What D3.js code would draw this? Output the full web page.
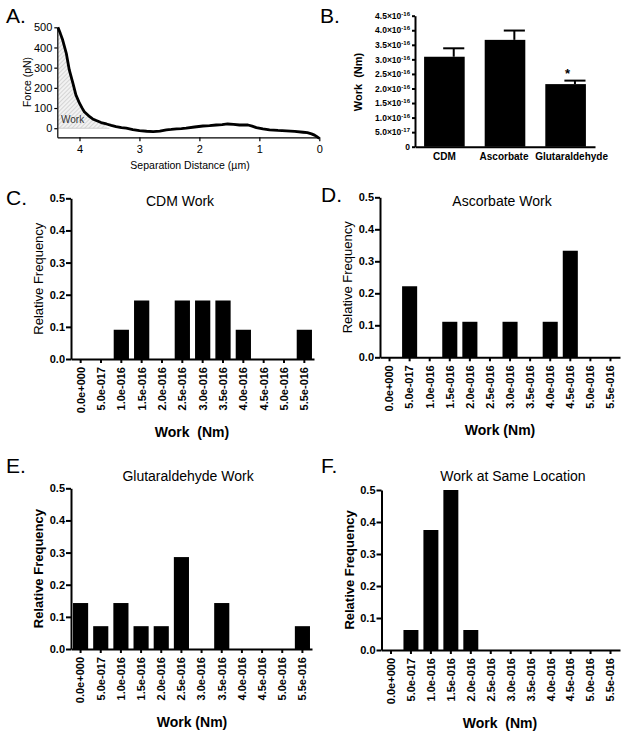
<!DOCTYPE html>
<html>
<head>
<meta charset="utf-8">
<script src="https://cdn.jsdelivr.net/npm/d3@7"></script>
<style>
  body { margin: 0; background: #fff; }
  svg { display: block; font-family: "Liberation Sans", Arial, sans-serif; }
</style>
</head>
<body>
<script>
// ---- data ----
// panel A: force curve
const sepDistance = [4.36, 4.32, 4.28, 4.22, 4.17, 4.11, 4.06, 4.0, 3.96, 3.92, 3.87, 3.83, 3.78, 3.72, 3.64, 3.55, 3.47, 3.39, 3.30, 3.22, 3.11, 3.0, 2.88, 2.77, 2.66, 2.55, 2.47, 2.38, 2.30, 2.22, 2.08, 1.94, 1.83, 1.72, 1.62, 1.53, 1.43, 1.33, 1.25, 1.19, 1.12, 1.05, 0.94, 0.83, 0.69, 0.55, 0.41, 0.27, 0.20, 0.13, 0.08, 0.04, 0];
const forcePN = [500, 470, 437, 371, 289, 223, 165, 124, 102, 82, 68, 57, 46, 38, 28, 21, 14, 8, 3, 0, -7, -12, -15, -17, -14, -8, -6, -3, -2, 0, 6, 11, 13, 16, 18, 21, 19, 16, 17, 16, 10, 3, -3, -8, -11, -13, -16, -20, -22, -28, -34, -42, -50];
const workShadeLimit = 3.5;

// panel B: mean work
const workGroups = ["CDM", "Ascorbate", "Glutaraldehyde"];
const workMean = [3.09e-16, 3.67e-16, 2.15e-16];
const workErr = [0.29e-16, 0.32e-16, 0.12e-16];
const workTicks = [0, 5e-17, 1e-16, 1.5e-16, 2e-16, 2.5e-16, 3e-16, 3.5e-16, 4e-16, 4.5e-16];

// histograms
const binLabels = ["0.0e+000", "5.0e-017", "1.0e-016", "1.5e-016", "2.0e-016", "2.5e-016",
                   "3.0e-016", "3.5e-016", "4.0e-016", "4.5e-016", "5.0e-016", "5.5e-016"];
const cdmFreq = [0, 0, 0.091, 0.182, 0, 0.182, 0.182, 0.182, 0.091, 0, 0, 0.091];
const ascorbateFreq = [0, 0.222, 0, 0.111, 0.111, 0, 0.111, 0, 0.111, 0.333, 0, 0];
const glutFreq = [0.143, 0.071, 0.143, 0.071, 0.071, 0.286, 0, 0.143, 0, 0, 0, 0.071];
const sameLocFreq = [0, 0.0625, 0.375, 0.5, 0.0625, 0, 0, 0, 0, 0, 0, 0];
const freqTicks = [0, 0.1, 0.2, 0.3, 0.4, 0.5];

const svg = d3.select("body").append("svg")
    .attr("width", 629)
    .attr("height", 737);

function panelLetter(txt, x, y) {
    svg.append("text")
        .attr("x", x).attr("y", y)
        .style("font-size", "21px")
        .text(txt);
}

// ---------- Panel A ----------
const ax = d3.scaleLinear().domain([4.37, 0]).range([57.3, 319.3]);
const ay = d3.scaleLinear().domain([-45, 500]).range([137.3, 27.3]);

const defs = svg.append("defs");
const hatch = defs.append("pattern")
    .attr("id", "hatch")
    .attr("patternUnits", "userSpaceOnUse")
    .attr("width", 3).attr("height", 3)
    .attr("patternTransform", "rotate(45)");
hatch.append("rect").attr("width", 3).attr("height", 3).attr("fill", "#f2f2f2");
hatch.append("line").attr("x1", 0).attr("y1", 0).attr("x2", 0).attr("y2", 3)
    .attr("stroke", "#b8b8b8").attr("stroke-width", 1);

const curvePts = sepDistance.map((d, i) => ({ d: d, f: forcePN[i] }));
const shadePts = curvePts.filter(p => p.d >= workShadeLimit);

svg.append("path")
    .datum(shadePts)
    .attr("d", d3.area().x(p => ax(p.d)).y0(ay(0)).y1(p => ay(p.f)))
    .attr("fill", "url(#hatch)");
svg.append("line")
    .attr("x1", ax(4.37)).attr("x2", ax(workShadeLimit))
    .attr("y1", ay(0)).attr("y2", ay(0))
    .attr("stroke", "#ccc").attr("stroke-width", 1);

svg.append("text")
    .attr("x", 61).attr("y", 123)
    .style("font-size", "10px")
    .style("fill", "#333")
    .text("Work");

svg.append("path")
    .datum(curvePts)
    .attr("d", d3.line().x(p => ax(p.d)).y(p => ay(p.f)))
    .attr("fill", "none")
    .attr("stroke", "#000")
    .attr("stroke-width", 2.8)
    .attr("stroke-linejoin", "round");

const aYAxis = svg.append("g")
    .attr("transform", `translate(${ax(4.37)},0)`)
    .call(d3.axisLeft(ay).tickValues([0, 100, 200, 300, 400, 500]).tickSize(3).tickSizeOuter(0).tickPadding(2));
const aXAxis = svg.append("g")
    .attr("transform", `translate(0,${ay(-45)})`)
    .call(d3.axisBottom(ax).tickValues([4, 3, 2, 1, 0]).tickSize(4).tickSizeOuter(0).tickPadding(4).tickFormat(d3.format("d")));
[aYAxis, aXAxis].forEach(g => {
    g.selectAll("path, line").attr("stroke", "#000").attr("stroke-width", 1.2);
    g.selectAll("text").style("font-size", "11px").attr("fill", "#000");
});

svg.append("text")
    .attr("transform", "translate(31,82) rotate(-90)")
    .attr("text-anchor", "middle")
    .style("font-size", "10.5px")
    .text("Force (pN)");
svg.append("text")
    .attr("x", 190).attr("y", 169)
    .attr("text-anchor", "middle")
    .style("font-size", "10.5px")
    .text("Separation Distance (µm)");

panelLetter("A.", 6, 23);

// ---------- Panel B ----------
const bx = d3.scaleBand().domain(workGroups).range([415, 595]).paddingInner(0.33).paddingOuter(0.15);
const by = d3.scaleLinear().domain([0, 4.5e-16]).range([146.7, 15.7]);

svg.append("g").selectAll("rect")
    .data(workGroups)
    .enter().append("rect")
    .attr("x", d => bx(d))
    .attr("y", (d, i) => by(workMean[i]))
    .attr("width", bx.bandwidth())
    .attr("height", (d, i) => by(0) - by(workMean[i]))
    .attr("fill", "#000");

const errG = svg.append("g").attr("stroke", "#000").attr("stroke-width", 2);
workGroups.forEach((g, i) => {
    const stemX = bx(g) + bx.bandwidth() * 0.73;
    errG.append("line")
        .attr("x1", stemX).attr("x2", stemX)
        .attr("y1", by(workMean[i])).attr("y2", by(workMean[i] + workErr[i]));
    errG.append("line")
        .attr("x1", bx(g) + bx.bandwidth() * 0.47).attr("x2", bx(g) + bx.bandwidth() * 0.99)
        .attr("y1", by(workMean[i] + workErr[i])).attr("y2", by(workMean[i] + workErr[i]));
});

svg.append("text")
    .attr("x", bx("Glutaraldehyde") + bx.bandwidth() * 0.55)
    .attr("y", by(workMean[2] + workErr[2]) - 3)
    .attr("text-anchor", "middle")
    .style("font-size", "13px")
    .style("font-weight", "bold")
    .text("*");

const bYAxis = svg.append("g")
    .attr("transform", "translate(415,0)")
    .call(d3.axisLeft(by).tickValues(workTicks).tickSize(3).tickSizeOuter(0).tickPadding(2).tickFormat(""));
bYAxis.selectAll(".tick text").each(function (v) {
    const t = d3.select(this);
    if (v === 0) { t.text("0"); return; }
    const e = Math.floor(Math.log10(v) + 1e-9);
    const m = v / Math.pow(10, e);
    t.append("tspan").text(m.toFixed(1) + "×10");
    t.append("tspan").attr("dy", "-0.5em").style("font-size", "6px").text(String(e));
});
bYAxis.selectAll("text").style("font-size", "8.5px").style("font-weight", "bold").attr("fill", "#000");

const bXAxis = svg.append("g")
    .attr("transform", `translate(0,${by(0)})`)
    .call(d3.axisBottom(bx).tickSize(0).tickSizeOuter(0).tickPadding(6));
bXAxis.selectAll("text").style("font-size", "10px").style("font-weight", "bold").attr("fill", "#000");
bXAxis.selectAll(".tick text").filter(d => d === "Glutaraldehyde").attr("dx", 6);
bXAxis.selectAll(".tick text").filter(d => d === "Ascorbate").attr("dx", -1);
[bYAxis, bXAxis].forEach(g => g.selectAll("path, line").attr("stroke", "#000").attr("stroke-width", 2));

svg.append("text")
    .attr("transform", "translate(362,82) rotate(-90)")
    .attr("text-anchor", "middle")
    .style("font-size", "11px")
    .style("font-weight", "bold")
    .style("white-space", "pre")
    .text("Work  (Nm)");

panelLetter("B.", 320, 23);

// ---------- histograms ----------
function histogram(o) {
    const x = d3.scaleBand().domain(binLabels).range([o.x0, o.x1]).paddingInner(0.25).paddingOuter(0.1);
    const y = d3.scaleLinear().domain([0, 0.5]).range([o.yBottom, o.yTop]);

    svg.append("g").selectAll("rect")
        .data(o.values)
        .enter().append("rect")
        .attr("x", (d, i) => x(binLabels[i]))
        .attr("y", d => y(d))
        .attr("width", x.bandwidth())
        .attr("height", d => y(0) - y(d))
        .attr("fill", "#000");

    const yAxis = svg.append("g")
        .attr("transform", `translate(${o.x0},0)`)
        .call(d3.axisLeft(y).tickValues(freqTicks).tickFormat(d3.format(".1f")).tickSize(5).tickSizeOuter(0).tickPadding(1));
    yAxis.selectAll("text").style("font-size", "11px").style("font-weight", "bold").attr("fill", "#000");

    const xAxis = svg.append("g")
        .attr("transform", `translate(0,${o.yBottom})`)
        .call(d3.axisBottom(x).tickSize(4).tickSizeOuter(0));
    xAxis.selectAll("text")
        .attr("transform", "rotate(-90)")
        .attr("x", -8).attr("y", 0).attr("dy", "0.35em")
        .style("text-anchor", "end")
        .style("font-size", "11px")
        .style("font-weight", "bold")
        .attr("fill", "#000");
    [yAxis, xAxis].forEach(g => g.selectAll("path, line").attr("stroke", "#000").attr("stroke-width", 2));

    svg.append("text")
        .attr("x", o.titleX).attr("y", o.titleY)
        .attr("text-anchor", "middle")
        .style("font-size", "14px")
        .text(o.title);

    svg.append("text")
        .attr("transform", `translate(${o.x0 - 28},${(o.yTop + o.yBottom) / 2}) rotate(-90)`)
        .attr("text-anchor", "middle")
        .style("font-size", "13px")
        .style("font-weight", o.boldY ? "bold" : "normal")
        .text("Relative Frequency");

    svg.append("text")
        .attr("x", o.xTitleX).attr("y", o.yBottom + 78)
        .attr("text-anchor", "middle")
        .style("font-size", "14px")
        .style("font-weight", "bold")
        .style("white-space", "pre")
        .text(o.xTitle);

    panelLetter(o.letter, o.letterX, o.letterY);
}

histogram({ values: cdmFreq, x0: 71, x1: 314, yTop: 198.3, yBottom: 359, title: "CDM Work", titleX: 180, titleY: 206,
            xTitle: "Work  (Nm)", xTitleX: 192, letter: "C.", letterX: 6, letterY: 205, boldY: false });
histogram({ values: ascorbateFreq, x0: 380, x1: 620, yTop: 197.3, yBottom: 357.3, title: "Ascorbate Work", titleX: 502, titleY: 206,
            xTitle: "Work (Nm)", xTitleX: 500, letter: "D.", letterX: 321, letterY: 202, boldY: false });
histogram({ values: glutFreq, x0: 71, x1: 312, yTop: 488.3, yBottom: 649, title: "Glutaraldehyde Work", titleX: 188, titleY: 481,
            xTitle: "Work (Nm)", xTitleX: 192, letter: "E.", letterX: 6, letterY: 473, boldY: true });
histogram({ values: sameLocFreq, x0: 381.5, x1: 620, yTop: 490, yBottom: 650, title: "Work at Same Location", titleX: 513, titleY: 481,
            xTitle: "Work  (Nm)", xTitleX: 500, letter: "F.", letterX: 321, letterY: 473, boldY: true });
</script>
</body>
</html>
